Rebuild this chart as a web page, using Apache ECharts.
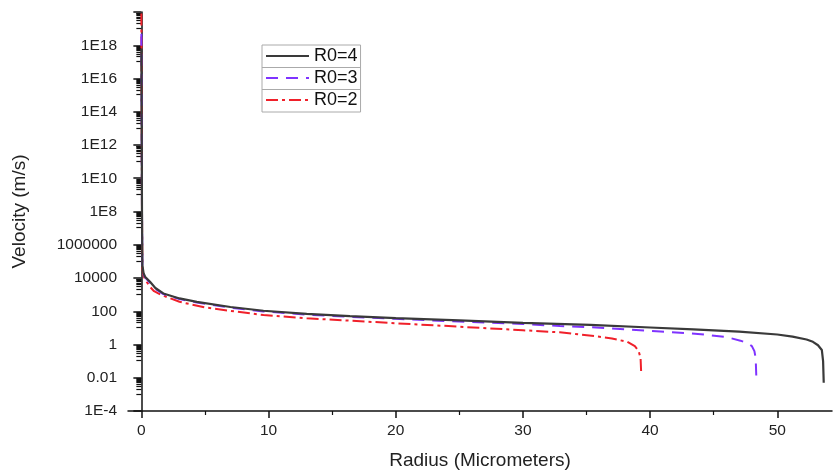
<!DOCTYPE html>
<html><head><meta charset="utf-8">
<script src="https://cdn.jsdelivr.net/npm/echarts@6/dist/echarts.min.js"></script>
<style>html,body{margin:0;padding:0;background:#fff}#c{width:834px;height:470px}</style>
</head><body><div id="c"></div>
<script>
// ---- data ----
const seriesNames = ['R0=4', 'R0=3', 'R0=2'];
const r0_4_x = [0.0, 0.05, 0.08, 0.17, 0.29, 0.68, 1.1, 1.73, 3, 4.36, 7, 9.6, 13, 16.4, 20, 25, 30, 35.3, 40, 43.4, 47, 50, 51.2, 52.3, 52.8, 53.2, 53.5, 53.6, 53.65];
const r0_4_v = [6e17, 1e8, 6e4, 2e4, 1.2e4, 5900, 2500, 1175, 590, 370, 180, 107, 70, 51, 39, 28, 20, 15, 10.5, 8.1, 5.9, 4, 3.0, 2.0, 1.45, 0.9, 0.47, 0.1, 0.005];
const r0_3_x = [0.0, 0.05, 0.08, 0.17, 0.29, 0.68, 1.1, 1.73, 3, 4.36, 7, 9.6, 13, 16.4, 20, 25, 30, 32.9, 35.3, 40.8, 44, 46, 47.1, 47.7, 48, 48.2, 48.3, 48.35];
const r0_3_v = [5e18, 1e8, 5.5e4, 1.8e4, 1.1e4, 5200, 2250, 1080, 540, 330, 165, 97, 63, 46, 35, 24, 17, 13, 11, 6, 4.2, 2.8, 1.7, 1.15, 0.8, 0.4, 0.15, 0.011];
const r0_2_x = [0.0, 0.05, 0.08, 0.17, 0.3, 0.68, 1.0, 1.5, 3, 5, 7, 9.6, 13, 16.4, 20, 25, 30, 32.9, 35.6, 37, 38.2, 38.8, 39.1, 39.25, 39.3];
const r0_2_v = [8e19, 1e8, 4e4, 1.4e4, 8000, 2950, 1600, 1000, 370, 170, 105, 59, 38, 27, 19, 11.8, 7.2, 5.4, 3.2, 2.3, 1.45, 0.8, 0.4, 0.15, 0.017];
const xTickValues = [0, 10, 20, 30, 40, 50];
const xMinorTickValues = [5, 15, 25, 35, 45];
const yTickLabels = ['1E-4', '0.01', '1', '100', '10000', '1000000', '1E8', '1E10', '1E12', '1E14', '1E16', '1E18'];

const zip = (xs, vs) => xs.map((x, i) => [x, vs[i]]);
const FONT = 'Arial, "Liberation Sans", sans-serif';
const chart = echarts.init(document.getElementById('c'), null, {renderer: 'canvas'});
const xMin = -1.05, xMax = 54.3;
const baseX = {
  type: 'value', min: xMin, max: xMax, position: 'bottom',
  splitLine: {show: false}
};
chart.setOption({
  animation: false,
  backgroundColor: '#fff',
  grid: {left: 128, right: 2, top: 12, bottom: 59, containLabel: false, outerBoundsMode: 'none'},
  xAxis: [
    Object.assign({}, baseX, {
      name: 'Radius (Micrometers)', nameLocation: 'middle', nameGap: 40,
      nameTextStyle: {fontSize: 19, color: '#222', fontFamily: FONT},
      axisLine: {show: true, lineStyle: {color: '#111', width: 1.5}},
      axisTick: {show: true, customValues: xTickValues, length: 7, lineStyle: {color: '#111', width: 1.5}},
      axisLabel: {customValues: xTickValues, fontSize: 15.5, color: '#222', fontFamily: FONT, margin: 12}
    }),
    Object.assign({}, baseX, {
      axisLine: {show: false},
      axisTick: {show: true, customValues: xMinorTickValues, length: 4, lineStyle: {color: '#111', width: 1.2}},
      axisLabel: {show: false}
    })
  ],
  yAxis: {
    type: 'log', logBase: 10, min: 1e-4, max: 1e20, interval: 2,
    name: 'Velocity (m/s)', nameLocation: 'middle', nameGap: 99, nameRotate: 90,
    nameTextStyle: {fontSize: 19, color: '#222', fontFamily: FONT},
    axisLine: {show: true, lineStyle: {color: '#111', width: 1.5}},
    axisTick: {show: true, length: 8, lineStyle: {color: '#111', width: 1.5}},
    minorTick: {show: true, splitNumber: 10, length: 5, lineStyle: {color: '#111', width: 1.2}},
    splitLine: {show: false},
    axisLabel: {
      fontSize: 15.5, color: '#222', fontFamily: FONT, margin: 11,
      formatter: v => {
        const e = Math.round(Math.log10(v));
        const idx = (e + 4) / 2;
        return yTickLabels[idx] !== undefined ? yTickLabels[idx] : '';
      }
    }
  },
  legend: {
    data: seriesNames, orient: 'vertical', left: 262, top: 45,
    itemWidth: 43, itemHeight: 14, itemGap: 4,
    padding: [2, 3, 3, 3],
    borderColor: '#aaa', borderWidth: 1, backgroundColor: '#fff',
    itemStyle: {opacity: 0},
    textStyle: {fontSize: 18, color: '#111', fontFamily: FONT, lineHeight: 18}
  },
  series: [
    {name: seriesNames[2], type: 'line', data: zip(r0_2_x, r0_2_v), showSymbol: false, symbol: 'none', z: 2,
     lineStyle: {color: '#f0202a', width: 2, type: [12, 4, 3, 4]}, itemStyle: {color: '#f0202a'}},
    {name: seriesNames[1], type: 'line', data: zip(r0_3_x, r0_3_v), showSymbol: false, symbol: 'none', z: 3,
     lineStyle: {color: '#7f33ff', width: 2, type: [12, 8]}, itemStyle: {color: '#7f33ff'}},
    {name: seriesNames[0], type: 'line', data: zip(r0_4_x, r0_4_v), showSymbol: false, symbol: 'none', z: 4,
     lineStyle: {color: '#3a3a3a', width: 2.2}, itemStyle: {color: '#3a3a3a'}}
  ],
  graphic: [
    {type: 'line', shape: {x1: 262, y1: 67.5, x2: 360, y2: 67.5}, style: {stroke: '#aaa', lineWidth: 1}, z: 100},
    {type: 'line', shape: {x1: 262, y1: 89.5, x2: 360, y2: 89.5}, style: {stroke: '#aaa', lineWidth: 1}, z: 100}
  ]
});
</script></body></html>
